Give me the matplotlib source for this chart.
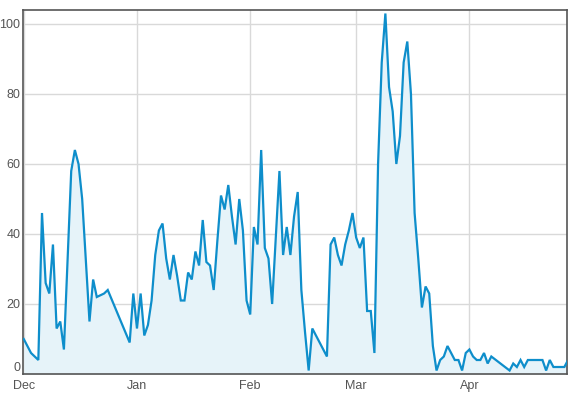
import matplotlib
matplotlib.use("Agg")
import matplotlib.pyplot as plt
import datetime as dt

# Days counted from 1 Dec 2011, with the value
days = [0, 2, 4, 5, 6, 7, 8, 9, 10, 11, 13, 14, 15, 16, 18, 19, 20, 22, 23,
        29, 30, 31, 32, 33, 34, 35, 36, 37, 38, 39, 40, 41, 42, 43, 44, 45,
        46, 47, 48, 49, 50, 51, 52, 53, 54, 55, 56, 57, 58, 59, 60, 61, 62,
        63, 64, 65, 66, 67, 68, 70, 71, 72, 73, 74, 75, 76, 77, 78, 79, 83,
        84, 85, 86, 87, 88, 89, 90, 91, 92, 93, 94, 95, 96, 97, 98, 99, 100,
        101, 102, 103, 104, 105, 106, 107, 108, 109, 110, 111, 112, 113, 114,
        115, 116, 117, 118, 119, 120, 121, 122, 123, 124, 125, 126, 127, 128,
        133, 134, 135, 136, 137, 138, 139, 140, 141, 142, 143, 144, 145, 146,
        147, 148, 149]
values = [10, 6, 4, 46, 26, 23, 37, 13, 15, 7, 58, 64, 60, 50, 15, 27, 22, 23, 24,
          9, 23, 13, 23, 11, 14, 21, 34, 41, 43, 33, 27, 34, 28, 21, 21, 29,
          27, 35, 31, 44, 32, 31, 24, 38, 51, 47, 54, 45, 37, 50, 41, 21, 17,
          42, 37, 64, 36, 33, 20, 58, 34, 42, 34, 45, 52, 24, 12, 1, 13, 5,
          37, 39, 34, 31, 37, 41, 46, 39, 36, 39, 18, 18, 6, 60, 89, 103, 82,
          75, 60, 68, 89, 95, 80, 46, 33, 19, 25, 23, 8, 1, 4,
          5, 8, 6, 4, 4, 1, 6, 7, 5, 4, 4, 6, 3, 5,
          1, 3, 2, 4, 2, 4, 4, 4, 4, 4, 1, 4, 2, 2,
          2, 2, 4]

month_ticks = ["2011-12-01", "2012-01-01", "2012-02-01", "2012-03-01", "2012-04-01"]
month_labels = ["Dec", "Jan", "Feb", "Mar", "Apr"]
y_ticks = [0, 20, 40, 60, 80, 100]

start = dt.datetime(2011, 12, 1)
dates = [start + dt.timedelta(days=d) for d in days]

plt.rcParams['font.family'] = ['Liberation Sans', 'DejaVu Sans']

fig = plt.figure(figsize=(5.76, 3.98), dpi=100)
ax = fig.add_axes([23 / 576, 24 / 398, 544.3 / 576, 364 / 398])

ax.fill_between(dates, values, 0, color="#e6f3f9", zorder=2, linewidth=0)
ax.plot(dates, values, color="#0e8ecb", lw=1.6, zorder=3,
        solid_joinstyle="miter")

ax.set_xlim(start - dt.timedelta(days=0.2), start + dt.timedelta(days=148.8))
ax.set_ylim(0, 104)

tick_dates = [dt.datetime.strptime(t, "%Y-%m-%d") for t in month_ticks]
ax.set_xticks(tick_dates)
ax.set_xticklabels(month_labels)
ax.set_yticks(y_ticks)
ax.set_yticklabels([str(v) for v in y_ticks])

ax.grid(True, color="#d9d9d9", lw=1, zorder=1)
ax.set_axisbelow(True)
ax.tick_params(length=0, labelsize=9, colors="#555555", pad=2)
ax.tick_params(axis="x", pad=4)
# lift the bottom "0" a touch so it clears "Dec"
ax.get_yticklabels()[0].set_verticalalignment("bottom")
for s in ax.spines.values():
    s.set_color("#555555")
    s.set_linewidth(1.2)

fig.savefig("out.png", dpi=100)
